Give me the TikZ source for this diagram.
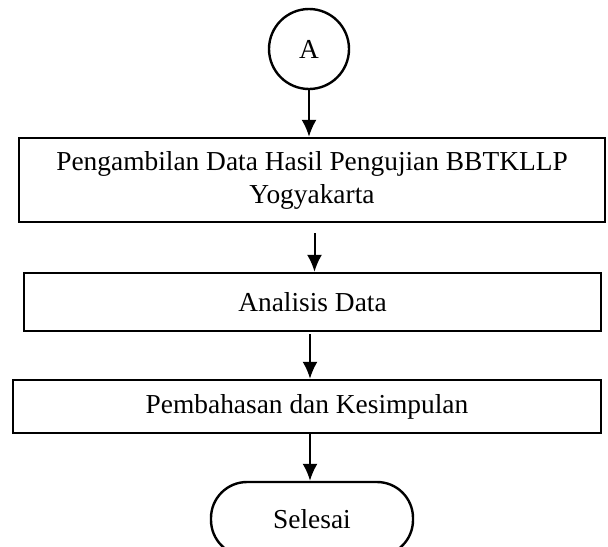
\documentclass[tikz,border=0pt]{standalone}
\usepackage{fontspec}
\setmainfont{Liberation Serif}
\usetikzlibrary{arrows.meta}
\begin{document}
\begin{tikzpicture}[>={Latex[length=8.5pt,width=7.5pt]},x=.5pt,y=-.5pt,
    txt/.style={font=\fontsize{13.7}{16.5}\selectfont},
    box/.style={draw,line width=1.2pt,inner sep=0pt,align=center,txt},
    arr/.style={->,line width=1pt}]
        \useasboundingbox (0,0) rectangle (608,546);
        \clip (0,0) rectangle (608,546);
        \node[draw,circle,line width=1.2pt,minimum size=40pt,inner sep=0pt,txt] (conA) at (309,49) {A};
        \node[box,minimum width=293pt,minimum height=42pt] (ambil) at (312,180) {Pengambilan Data Hasil Pengujian BBTKLLP\\Yogyakarta};
        \node[box,minimum width=288.5pt,minimum height=29pt] (analisis) at (312.5,302) {Analisis Data};
        \node[box,minimum width=294pt,minimum height=26.5pt] (bahas) at (307,406.5) {Pembahasan dan Kesimpulan};
        \node[draw,line width=1.2pt,rounded corners=18pt,minimum width=101pt,minimum height=37pt,inner sep=0pt,txt] (selesai) at (312,519) {Selesai};
        \draw[arr] (conA.south) -- (conA.south |- ambil.north);
        \draw[arr,shorten <=5pt] ([xshift=1pt]analisis.north |- ambil.south) -- ([xshift=1pt]analisis.north);
        \draw[arr,shorten <=1pt] ([xshift=1.5pt]bahas.north |- analisis.south) -- ([xshift=1.5pt]bahas.north);
        \draw[arr] ([xshift=1.5pt]bahas.south) -- ([xshift=1.5pt]bahas.south |- selesai.north);
    \end{tikzpicture}
\end{document}
